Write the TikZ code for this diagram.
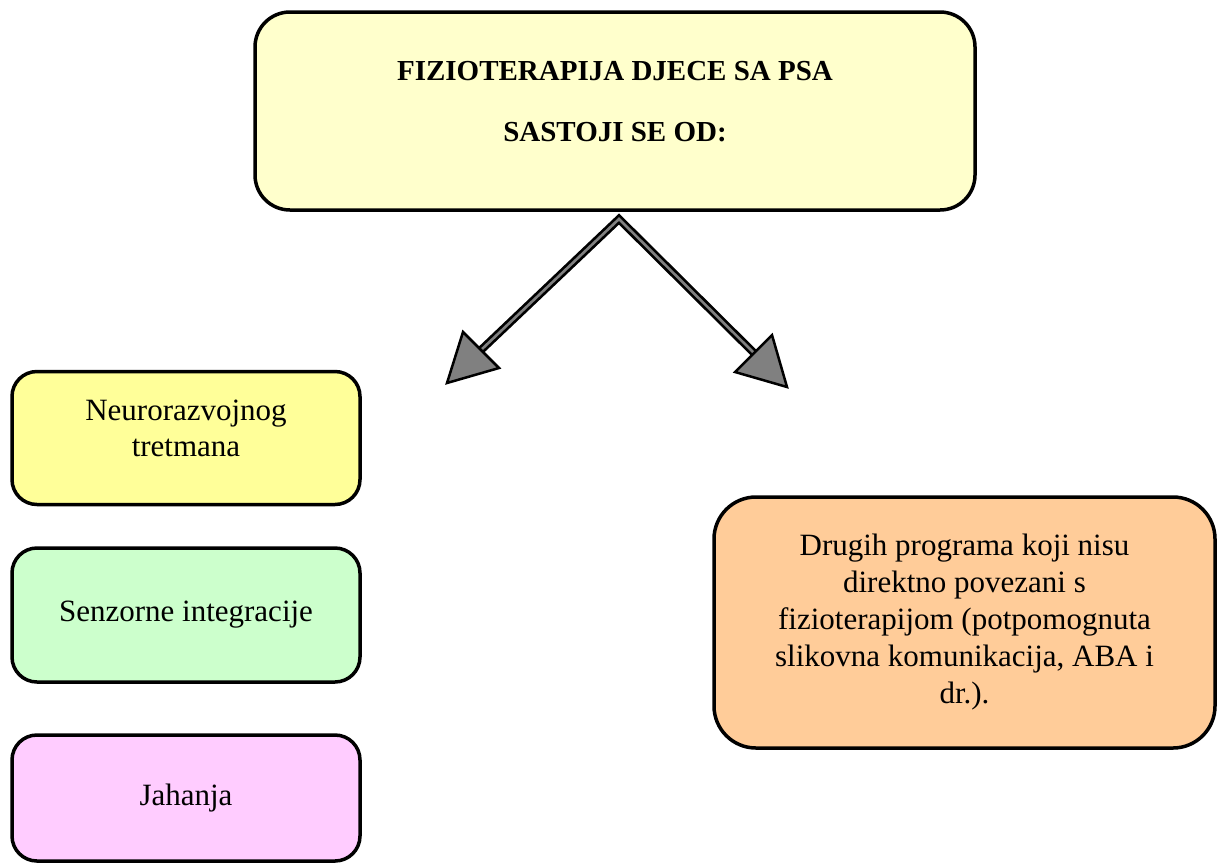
\documentclass[tikz,border=0pt]{standalone}
\usepackage{fontspec}
\setmainfont{Liberation Serif}
\definecolor{topc}{HTML}{FFFFCC}
\definecolor{neuroc}{HTML}{FFFF99}
\definecolor{senzc}{HTML}{CCFFCC}
\definecolor{jahc}{HTML}{FFCCFF}
\definecolor{drugc}{HTML}{FFCC99}
\definecolor{arrgray}{HTML}{808080}
\begin{document}
\begin{tikzpicture}[x=1pt,y=-1pt,
  box/.style={draw=black, line width=3.5pt, rounded corners=25pt, align=center, inner sep=0pt,
    font=\fontsize{31}{37}\selectfont},
  shaftout/.style={line width=8pt, black, miter limit=10},
  shaftin/.style={line width=2.6pt, arrgray, miter limit=10},
  headtip/.style={fill=arrgray, draw=black, line width=2.5pt, line join=miter}]
\useasboundingbox (0,0) rectangle (1217,863);
\fill[white] (0,0) rectangle (1217,863);

\node[box, fill=topc, rounded corners=35pt, minimum width=720pt, minimum height=198pt,
  text depth=19pt, font=\bfseries\fontsize{29}{61}\selectfont] (top) at (615,111)
  {FIZIOTERAPIJA DJECE SA PSA\\SASTOJI SE OD:};

\node[box, fill=neuroc, minimum width=348pt, minimum height=133pt, text depth=19pt,
  font=\fontsize{31}{36}\selectfont] (neuro) at (186,438)
  {Neurorazvojnog\\tretmana};
\node[box, fill=senzc, minimum width=348pt, minimum height=134pt] (senz) at (186,615)
  {Senzorne integracije};
\node[box, fill=jahc, minimum width=348pt, minimum height=126pt] (jah) at (186,798)
  {Jahanja};
\node[box, fill=drugc, rounded corners=42pt, minimum width=501pt, minimum height=251pt] (drug) at (964.5,622.5)
  {Drugih programa koji nisu\\direktno povezani s\\fizioterapijom (potpomognuta\\slikovna komunikacija, ABA i\\dr.).};

\coordinate (apex) at (619,219);
\coordinate (lb) at (481,350);
\coordinate (rb) at (755,354);
\coordinate (lt) at (447,383);
\coordinate (l1) at (463,332);
\coordinate (l2) at (499,368);
\coordinate (rt) at (787,387);
\coordinate (r1) at (772,335);
\coordinate (r2) at (735,372);

\draw[shaftout] (lb) -- (apex) -- (rb);
\draw[shaftin] (lb) -- (apex) -- (rb);
\filldraw[headtip] (l1) -- (lt) -- (l2) -- cycle;
\filldraw[headtip] (r1) -- (rt) -- (r2) -- cycle;
\end{tikzpicture}
\end{document}
